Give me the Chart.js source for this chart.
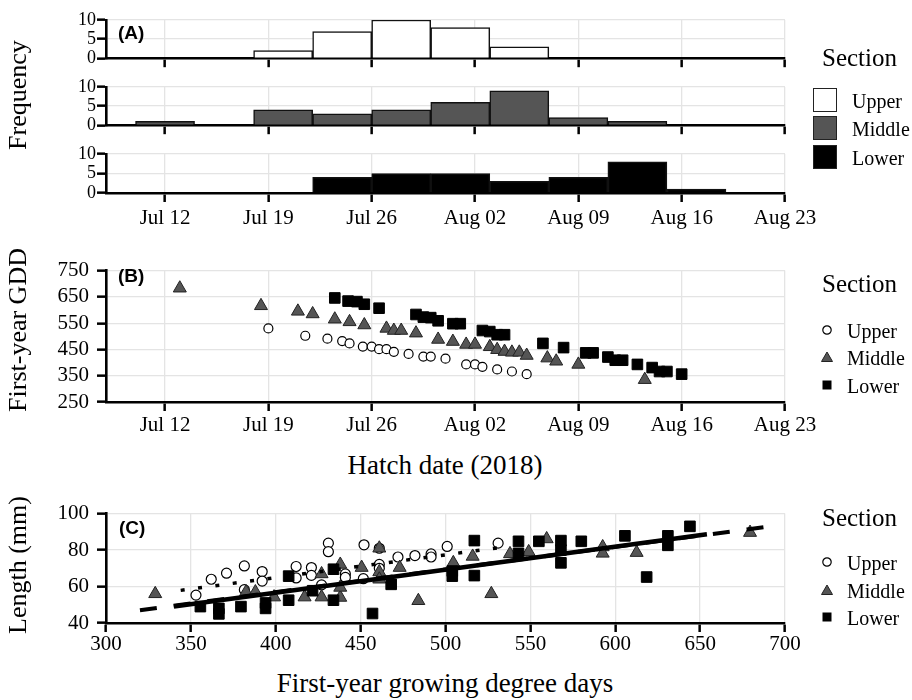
<!DOCTYPE html>
<html>
<head>
<meta charset="utf-8">
<script src="https://cdn.jsdelivr.net/npm/chart.js@4.4.0/dist/chart.umd.min.js"></script>
<style>
  body { margin: 0; background: #fff; }
  #page { position: relative; width: 912px; height: 700px; overflow: hidden; font-family: 'Liberation Serif', 'Times New Roman', serif; color: #000; }
  .box { position: absolute; left: 0; width: 912px; }
  .txt { position: absolute; white-space: nowrap; line-height: 1; }
  .mid { transform: translate(-50%, -50%); }
  .vmid { transform: translateY(-50%); }
  .rot { transform: translate(-50%, -50%) rotate(-90deg); font-size: 26px; }
  .tag { font-family: 'Liberation Sans', Arial, sans-serif; font-weight: bold; font-size: 19px; z-index: 5; }
  .swatch { position: absolute; left: 813px; width: 22px; height: 22px; border: 1.5px solid #222; }
  svg.sym { position: absolute; }
</style>
</head>
<body>
<div id="page">
  <div class="box" style="top:5px;height:65px"><canvas id="histUpper"></canvas></div>
  <div class="box" style="top:72px;height:65px"><canvas id="histMiddle"></canvas></div>
  <div class="box" style="top:139px;height:94px"><canvas id="histLower"></canvas></div>
  <div class="box" style="top:250px;height:192px"><canvas id="gddChart"></canvas></div>
  <div class="box" style="top:493px;height:170px"><canvas id="lengthChart"></canvas></div>

  <div class="txt tag vmid" style="left:118px;top:32px">(A)</div>
  <div class="txt tag vmid" style="left:118px;top:275px">(B)</div>
  <div class="txt tag vmid" style="left:119px;top:527px">(C)</div>

  <div class="txt rot" style="left:18px;top:95px">Frequency</div>
  <div class="txt rot" style="left:18px;top:330px">First-year GDD</div>
  <div class="txt rot" style="left:18px;top:565px">Length (mm)</div>
  <div class="txt mid" style="left:445px;top:465px;font-size:27px">Hatch date (2018)</div>
  <div class="txt mid" style="left:445px;top:683px;font-size:27px">First-year growing degree days</div>

  <!-- legend A -->
  <div class="txt vmid" style="left:822px;top:57px;font-size:25px">Section</div>
  <div class="swatch" style="top:88px;background:#fff"></div>
  <div class="swatch" style="top:116px;background:#555"></div>
  <div class="swatch" style="top:145px;background:#000"></div>
  <div class="txt vmid" style="left:852px;top:101px;font-size:20px">Upper</div>
  <div class="txt vmid" style="left:852px;top:129px;font-size:20px">Middle</div>
  <div class="txt vmid" style="left:852px;top:158px;font-size:20px">Lower</div>

  <!-- legend B -->
  <div class="txt vmid" style="left:822px;top:283px;font-size:25px">Section</div>
  <svg class="sym" style="left:820px;top:323px" width="14" height="14"><circle cx="7" cy="7" r="4.2" fill="#fff" stroke="#000" stroke-width="1.2"/></svg>
  <svg class="sym" style="left:820px;top:350px" width="14" height="14"><polygon points="7,2 12.5,11.5 1.5,11.5" fill="#555" stroke="#222" stroke-width="1"/></svg>
  <svg class="sym" style="left:820px;top:378px" width="14" height="14"><rect x="2.5" y="2.5" width="9" height="9" fill="#000"/></svg>
  <div class="txt vmid" style="left:847px;top:331px;font-size:20px">Upper</div>
  <div class="txt vmid" style="left:847px;top:358px;font-size:20px">Middle</div>
  <div class="txt vmid" style="left:847px;top:386px;font-size:20px">Lower</div>

  <!-- legend C -->
  <div class="txt vmid" style="left:822px;top:517px;font-size:25px">Section</div>
  <svg class="sym" style="left:820px;top:555px" width="14" height="14"><circle cx="7" cy="7" r="4.2" fill="#fff" stroke="#000" stroke-width="1.2"/></svg>
  <svg class="sym" style="left:820px;top:583px" width="14" height="14"><polygon points="7,2 12.5,11.5 1.5,11.5" fill="#555" stroke="#222" stroke-width="1"/></svg>
  <svg class="sym" style="left:820px;top:610px" width="14" height="14"><rect x="2.5" y="2.5" width="9" height="9" fill="#000"/></svg>
  <div class="txt vmid" style="left:847px;top:563px;font-size:20px">Upper</div>
  <div class="txt vmid" style="left:847px;top:591px;font-size:20px">Middle</div>
  <div class="txt vmid" style="left:847px;top:618px;font-size:20px">Lower</div>
</div>

<script>
// hatch day counted from Jul 0 (Jul 12 = 12, Aug 02 = 33)
var dayTicks = [12, 19, 26, 33, 40, 47, 54];
var dayTickLabels = ['Jul 12', 'Jul 19', 'Jul 26', 'Aug 02', 'Aug 09', 'Aug 16', 'Aug 23'];

// (A) 4-day bins, centres
var binCentres = [12, 16, 20, 24, 28, 32, 36, 40, 44, 48, 52];
var upperFreq = [0, 0, 2, 7, 10, 8, 3, 0, 0, 0, 0];
var middleFreq = [1, 0, 4, 3, 4, 6, 9, 2, 1, 0, 0];
var lowerFreq = [0, 0, 0, 4, 5, 5, 3, 4, 8, 1, 0];
var freqTicks = [0, 5, 10];

// (B) hatch day vs first-year GDD
var upperHatch = [19, 21.5, 23, 24, 24.5, 25.4, 26, 26.5, 27, 27.5, 28.5, 29.5, 30, 31, 32.4, 33, 33.5, 34.5, 35.5, 36.5];
var upperGdd = [530, 502, 491, 482, 473, 461, 461, 451, 451, 441, 433, 423, 423, 415, 393, 393, 384, 374, 366, 356];
var middleHatch = [13, 18.5, 21, 22, 23.5, 24.5, 25.5, 27, 27.5, 28, 29, 30.5, 31.5, 32.4, 33, 34, 34.5, 35, 35.5, 36, 36.5, 37.9, 38.5, 40, 44.5];
var middleGdd = [683, 616, 595, 585, 565, 555, 543, 530, 522, 522, 512, 488, 480, 469, 469, 460, 449, 442, 439, 439, 427, 417, 405, 393, 335];
var lowerHatch = [23.5, 24.4, 25, 25.5, 26.5, 29, 29.5, 30, 30.5, 31.5, 32, 33.5, 34, 34.5, 35, 37.6, 39, 40.5, 41, 42, 42.5, 43, 44, 45, 45.5, 46, 47];
var lowerGdd = [646, 634, 632, 622, 607, 583, 573, 571, 559, 548, 548, 522, 518, 506, 506, 473, 457, 437, 437, 421, 409, 409, 393, 381, 366, 366, 356];
var gddTicks = [250, 350, 450, 550, 650, 750];

// (C) first-year GDD vs length
var upperGddC = [353, 362, 371, 381.5, 381.5, 392, 392, 412, 412, 421, 421, 427, 431, 431, 441, 441, 451.6, 452, 461, 461, 461, 472, 482, 491.5, 491.5, 501, 531];
var upperLen = [55.3, 64, 67.3, 71.3, 58.3, 68.2, 63, 71, 64.7, 70.4, 66.1, 60.9, 83.8, 79.1, 66.9, 65, 64.3, 82.9, 72.1, 70, 81, 76.2, 77, 77.9, 76.2, 82, 83.8];
var middleGddC = [329, 382.5, 388, 399, 417, 427, 427, 438, 438, 438, 450.6, 461, 461, 461, 473, 484, 504.6, 516, 527, 538, 549, 559.6, 592.6, 592.6, 612.6, 679.4];
var middleLen = [56, 57, 57, 54.2, 54.2, 54.2, 66.9, 54, 59.5, 72.1, 70.4, 81, 68, 64, 70.4, 52.2, 73, 76.5, 56, 77.9, 79, 86.1, 81.7, 78.2, 78.6, 89.6];
var lowerGddC = [355.6, 366.5, 366.5, 379.5, 394, 394, 407.6, 407.6, 421.7, 434, 434, 457, 468, 504, 504, 517, 517, 543, 543, 555, 568, 568, 568, 580, 605.7, 618.5, 631, 631, 644];
var lowerLen = [49, 48, 45, 49, 51, 48, 52.5, 65.7, 57.7, 52.5, 69.5, 45.2, 61.2, 65.7, 68.5, 85.2, 66, 84.8, 78.2, 84.8, 85.2, 80, 73, 84.8, 87.8, 65.2, 87.8, 82.6, 93];
var gddAxisTicks = [300, 350, 400, 450, 500, 550, 600, 650, 700];
var lenTicks = [40, 60, 80, 100];

// fitted lines (end points)
var upperFitGdd = [344, 537];
var upperFitLen = [57.9, 82];
var middleFitGdd = [320, 690];
var middleFitLen = [47, 92.9];
var lowerFitGdd = [340, 654];
var lowerFitLen = [49, 88.7];

var serif = 'Liberation Serif';
Chart.defaults.font.family = serif;
Chart.defaults.color = '#000';

var pts = function(xs, ys) {
  var out = [];
  for (var i = 0; i < xs.length; i++) {
    out.push({x: xs[i], y: ys[i]});
  }
  return out;
};

var fixTicks = function(values) {
  return function(axis) {
    axis.ticks = values.map(function(v) { return {value: v}; });
  };
};

var gridStyle = function() {
  return {color: '#e4e4e4', lineWidth: 1.3, tickColor: '#000', tickLength: 9, tickWidth: 2.5, offset: false};
};
var borderStyle = {color: '#000', width: 2.6};

var xAxis = function(min, max, ticks, labels, show, pad, height) {
  return {
    type: 'linear', min: min, max: max, offset: false,
    afterBuildTicks: fixTicks(ticks),
    afterFit: function(s) { s.height = height; },
    ticks: {
      display: show, autoSkip: false, maxRotation: 0, padding: pad,
      font: {family: serif, size: 21}, color: '#000',
      callback: function(v) { return labels ? labels[ticks.indexOf(v)] : v; }
    },
    grid: gridStyle(),
    border: borderStyle
  };
};

var yAxis = function(min, max, ticks, size, pad) {
  return {
    type: 'linear', min: min, max: max,
    afterBuildTicks: fixTicks(ticks),
    afterFit: function(s) { s.width = 106; },
    ticks: {autoSkip: false, padding: pad, font: {family: serif, size: size}, color: '#000'},
    grid: gridStyle(),
    border: borderStyle
  };
};

var baseOptions = function(scales) {
  return {
    responsive: true,
    maintainAspectRatio: false,
    animation: false,
    devicePixelRatio: 1,
    layout: {padding: {left: 0, right: 127, top: 15, bottom: 0}},
    plugins: {legend: {display: false}, tooltip: {enabled: false}},
    scales: scales
  };
};

var init_hist = function(id, counts, fill, showLabels, xHeight) {
  new Chart(document.getElementById(id), {
    type: 'bar',
    data: {
      datasets: [{
        data: pts(binCentres, counts),
        backgroundColor: fill,
        borderColor: '#111',
        borderWidth: 1.5,
        borderSkipped: 'start',
        barPercentage: 1,
        categoryPercentage: 1
      }]
    },
    options: baseOptions({
      x: xAxis(8, 54, dayTicks, dayTickLabels, showLabels, 4, xHeight),
      y: yAxis(0, 10, freqTicks, 18, 1)
    })
  });
};

init_hist('histUpper', upperFreq, '#fff', false, 10);
init_hist('histMiddle', middleFreq, '#555', false, 10);
init_hist('histLower', lowerFreq, '#000', true, 40);

var upperPoint = {pointStyle: 'circle', backgroundColor: '#fff', borderColor: '#000', borderWidth: 1.2, order: 3};
var middlePoint = {pointStyle: 'triangle', backgroundColor: '#555', borderColor: '#222', borderWidth: 1, order: 2};
var lowerPoint = {pointStyle: 'rect', backgroundColor: '#000', borderColor: '#000', borderWidth: 1, order: 1};

var withData = function(style, data, radius) {
  var ds = Object.assign({}, style);
  ds.data = data;
  ds.pointRadius = radius;
  return ds;
};

new Chart(document.getElementById('gddChart'), {
  type: 'scatter',
  data: {
    datasets: [
      withData(lowerPoint, pts(lowerHatch, lowerGdd), 7.5),
      withData(middlePoint, pts(middleHatch, middleGdd), 7.5),
      withData(upperPoint, pts(upperHatch, upperGdd), 4.5)
    ]
  },
  options: baseOptions({
    x: xAxis(8, 54, dayTicks, dayTickLabels, true, 2, 40),
    y: yAxis(250, 750, gddTicks, 21, 8)
  })
});

new Chart(document.getElementById('lengthChart'), {
  type: 'scatter',
  data: {
    datasets: [
      withData(lowerPoint, pts(lowerGddC, lowerLen), 7.5),
      withData(middlePoint, pts(middleGddC, middleLen), 7.5),
      withData(upperPoint, pts(upperGddC, upperLen), 5),
      {data: pts(lowerFitGdd, lowerFitLen), showLine: true, pointRadius: 0, borderColor: '#000', borderWidth: 4.5, order: -3},
      {data: pts(middleFitGdd, middleFitLen), showLine: true, pointRadius: 0, borderColor: '#000', borderWidth: 4, borderDash: [17, 17], order: -2},
      {data: pts(upperFitGdd, upperFitLen), showLine: true, pointRadius: 0, borderColor: '#000', borderWidth: 3.5, borderDash: [4, 13.5], order: -1}
    ]
  },
  options: baseOptions({
    x: xAxis(300, 700, gddAxisTicks, null, true, 0, 40),
    y: yAxis(40, 100, lenTicks, 21, 8)
  })
});
</script>
</body>
</html>
